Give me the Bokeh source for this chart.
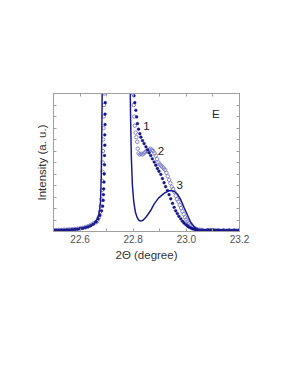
from bokeh.plotting import figure
from bokeh.models import LinearAxis, FixedTicker, PrintfTickFormatter, Range1d, CustomJSTickFormatter
from bokeh.embed import file_html
from bokeh.resources import INLINE
from bokeh.core.properties import value

# ---- data ----
# curve 3: solid line
x3 = [22.50, 22.54, 22.58, 22.61, 22.63, 22.645, 22.655, 22.665, 22.672, 22.677, 22.680, 22.682, 22.684,
      22.74, 22.788, 22.790, 22.793, 22.797, 22.802, 22.808, 22.815, 22.822, 22.829, 22.838, 22.85, 22.865,
      22.879, 22.895, 22.916, 22.93, 22.941, 22.955, 22.966, 22.979, 22.991, 23.004, 23.017, 23.03, 23.042,
      23.055, 23.07, 23.085, 23.10, 23.12, 23.14, 23.17, 23.20]
y3 = [0.05, 0.06, 0.09, 0.14, 0.2, 0.28, 0.38, 0.55, 0.8, 1.3, 2.5, 4.5, 7.0,
      30.0, 7.0, 5.0, 3.2, 2.0, 1.3, 0.85, 0.6, 0.48, 0.45, 0.5, 0.65, 0.9,
      1.2, 1.45, 1.66, 1.75, 1.78, 1.74, 1.63, 1.38, 1.05, 0.72, 0.39, 0.2, 0.1,
      0.07, 0.08, 0.1, 0.1, 0.08, 0.06, 0.05, 0.05]

# curve 1: dark filled dots
x1 = [22.50, 22.51, 22.52, 22.53, 22.54, 22.55, 22.56, 22.57, 22.58, 22.59, 22.60, 22.61, 22.62, 22.63,
      22.64, 22.65, 22.66, 22.668, 22.675, 22.681, 22.685, 22.687, 22.688, 22.689, 22.690, 22.691, 22.692,
      22.692, 22.693, 22.693, 22.694, 22.694, 22.695, 22.695,
      22.800, 22.803, 22.806, 22.810, 22.813, 22.816, 22.820, 22.825, 22.829, 22.835, 22.841, 22.848,
      22.854, 22.860, 22.866, 22.872, 22.879, 22.885, 22.891, 22.897, 22.904, 22.910, 22.916, 22.922,
      22.929, 22.935, 22.941, 22.948, 22.954, 22.960, 22.966, 22.972, 22.979, 22.985, 22.991, 22.998,
      23.004, 23.010, 23.017, 23.023, 23.029, 23.035, 23.042, 23.050, 23.06, 23.07, 23.08, 23.09, 23.10,
      23.11, 23.12, 23.13, 23.14, 23.15, 23.16, 23.17, 23.18, 23.19, 23.20]
y1 = [0.05, 0.05, 0.05, 0.06, 0.06, 0.07, 0.07, 0.08, 0.09, 0.10, 0.12, 0.14, 0.17, 0.20,
      0.25, 0.32, 0.42, 0.55, 0.70, 0.90, 1.10, 1.35, 1.60, 1.85, 2.15, 2.50, 2.90,
      3.30, 3.75, 4.20, 4.65, 5.10, 5.60, 6.10,
      6.20, 5.90, 5.60, 5.27, 4.98, 4.69, 4.45, 4.25, 4.10, 3.95, 3.82, 3.68,
      3.55, 3.42, 3.30, 3.16, 3.02, 2.88, 2.74, 2.62, 2.48, 2.30, 2.12, 1.95,
      1.78, 1.60, 1.42, 1.22, 1.05, 0.90, 0.78, 0.66, 0.55, 0.45, 0.37, 0.30,
      0.24, 0.19, 0.15, 0.12, 0.10, 0.08, 0.07, 0.06, 0.06, 0.05, 0.05, 0.05, 0.05,
      0.05, 0.05, 0.05, 0.05, 0.05, 0.05, 0.05, 0.05, 0.05, 0.05]

# curve 2: light open circles
x2 = [22.50, 22.51, 22.52, 22.53, 22.54, 22.55, 22.56, 22.57, 22.58, 22.59, 22.60, 22.61, 22.62, 22.63,
      22.64, 22.65, 22.66, 22.665, 22.670, 22.675, 22.678, 22.680, 22.682, 22.683, 22.684, 22.685, 22.686,
      22.687, 22.688, 22.689, 22.690, 22.691, 22.692,
      22.798, 22.800, 22.802, 22.804, 22.806, 22.809, 22.812, 22.815, 22.817, 22.820, 22.825, 22.830,
      22.835, 22.840, 22.845, 22.850, 22.855, 22.860, 22.865, 22.870, 22.875, 22.880, 22.885, 22.890,
      22.895, 22.900, 22.905, 22.910, 22.915, 22.920, 22.925, 22.930, 22.935, 22.940, 22.945, 22.950,
      22.955, 22.960, 22.965, 22.970, 22.975, 22.980, 22.985, 22.990, 22.995, 23.000, 23.005, 23.010,
      23.015, 23.020, 23.025, 23.030, 23.040, 23.050, 23.06, 23.08, 23.10, 23.12, 23.14, 23.16, 23.18, 23.20]
y2 = [0.06, 0.06, 0.07, 0.07, 0.08, 0.08, 0.09, 0.10, 0.11, 0.12, 0.14, 0.16, 0.19, 0.23,
      0.28, 0.35, 0.40, 0.45, 0.60, 0.85, 1.10, 1.40, 1.80, 2.20, 2.60, 3.00, 3.50,
      4.00, 4.50, 5.00, 5.50, 6.00, 6.50,
      6.50, 6.00, 5.50, 5.00, 4.60, 4.30, 4.10, 3.90, 3.60, 3.40, 3.35, 3.38,
      3.35, 3.40, 3.45, 3.50, 3.48, 3.55, 3.60, 3.55, 3.50, 3.40, 3.30, 3.15,
      3.00, 2.92, 2.86, 2.80, 2.74, 2.68, 2.55, 2.40, 2.25, 2.10, 1.95, 1.85,
      1.72, 1.55, 1.40, 1.30, 1.15, 1.02, 0.88, 0.75, 0.62, 0.52, 0.44, 0.36,
      0.28, 0.22, 0.18, 0.15, 0.10, 0.08, 0.07, 0.06, 0.06, 0.06, 0.06, 0.06, 0.06, 0.06]

x_major = [22.6, 22.8, 23.0, 23.2]
x_minor = [22.5, 22.7, 22.9, 23.1]
y_ticks = [0, 0.5, 1, 1.5, 2, 2.5, 3, 3.5, 4, 4.5, 5, 5.5, 6]

labels_text = ["1", "2", "3", "E"]
labels_x = [22.85, 22.904, 22.975, 23.111]
labels_y = [4.6, 3.52, 2.03, 5.13]

FONT = "Liberation Sans"
FRAME = "#a0a0a0"

p = figure(frame_width=186, frame_height=138, min_border_left=53, min_border_right=40,
           min_border_top=93, min_border_bottom=115,
           x_range=Range1d(22.5, 23.2), y_range=Range1d(0, 6),
           output_backend="svg", toolbar_location=None, x_axis_location=None, y_axis_location=None)
p.xgrid.visible = False
p.ygrid.visible = False
p.outline_line_color = FRAME
p.background_fill_color = "white"
p.border_fill_color = "white"

xt = FixedTicker(ticks=x_major, minor_ticks=x_minor)
yt = FixedTicker(ticks=y_ticks, minor_ticks=[])
blank = CustomJSTickFormatter(code="return '';")


def style(ax):
    ax.axis_line_color = FRAME
    ax.major_tick_line_color = FRAME
    ax.minor_tick_line_color = FRAME
    ax.major_tick_in = 3
    ax.major_tick_out = 0
    ax.minor_tick_in = 3
    ax.minor_tick_out = 0


bottom = LinearAxis(ticker=xt, formatter=PrintfTickFormatter(format="%.1f"))
style(bottom)
bottom.major_label_text_font = FONT
bottom.major_label_text_font_size = "10px"
bottom.major_label_text_color = "#505050"
bottom.major_label_standoff = 3
bottom.axis_label = "2\u0398 (degree)"
bottom.axis_label_text_font = FONT
bottom.axis_label_text_font_size = "11.5px"
bottom.axis_label_text_font_style = "normal"
bottom.axis_label_text_color = "#333333"
bottom.axis_label_standoff = 3
p.add_layout(bottom, "below")

top = LinearAxis(ticker=xt, formatter=blank)
style(top)
top.major_label_standoff = 0
p.add_layout(top, "above")

left = LinearAxis(ticker=yt, formatter=blank)
style(left)
left.major_label_standoff = 0
left.axis_label = "Intensity (a. u.)"
left.axis_label_text_font = FONT
left.axis_label_text_font_size = "11.5px"
left.axis_label_text_font_style = "normal"
left.axis_label_text_color = "#333333"
left.axis_label_standoff = 6
p.add_layout(left, "left")

right = LinearAxis(ticker=yt, formatter=blank)
style(right)
right.major_label_standoff = 0
p.add_layout(right, "right")

p.scatter(x2, y2, marker="circle", size=3.5, fill_color=None, line_color="#7c7cc4", line_width=0.9)
p.scatter(x1, y1, marker="circle", size=2.8, fill_color="#14148a", line_color="#14148a", line_width=0.4)
p.line(x3, y3, line_color="#1c1c8c", line_width=1.5)

p.text(labels_x, labels_y, text=labels_text, text_font=value(FONT), text_font_size="11.5px",
       text_align="center", text_baseline="middle", text_color="#222222")

open("out.html", "w").write(file_html(p, INLINE))
